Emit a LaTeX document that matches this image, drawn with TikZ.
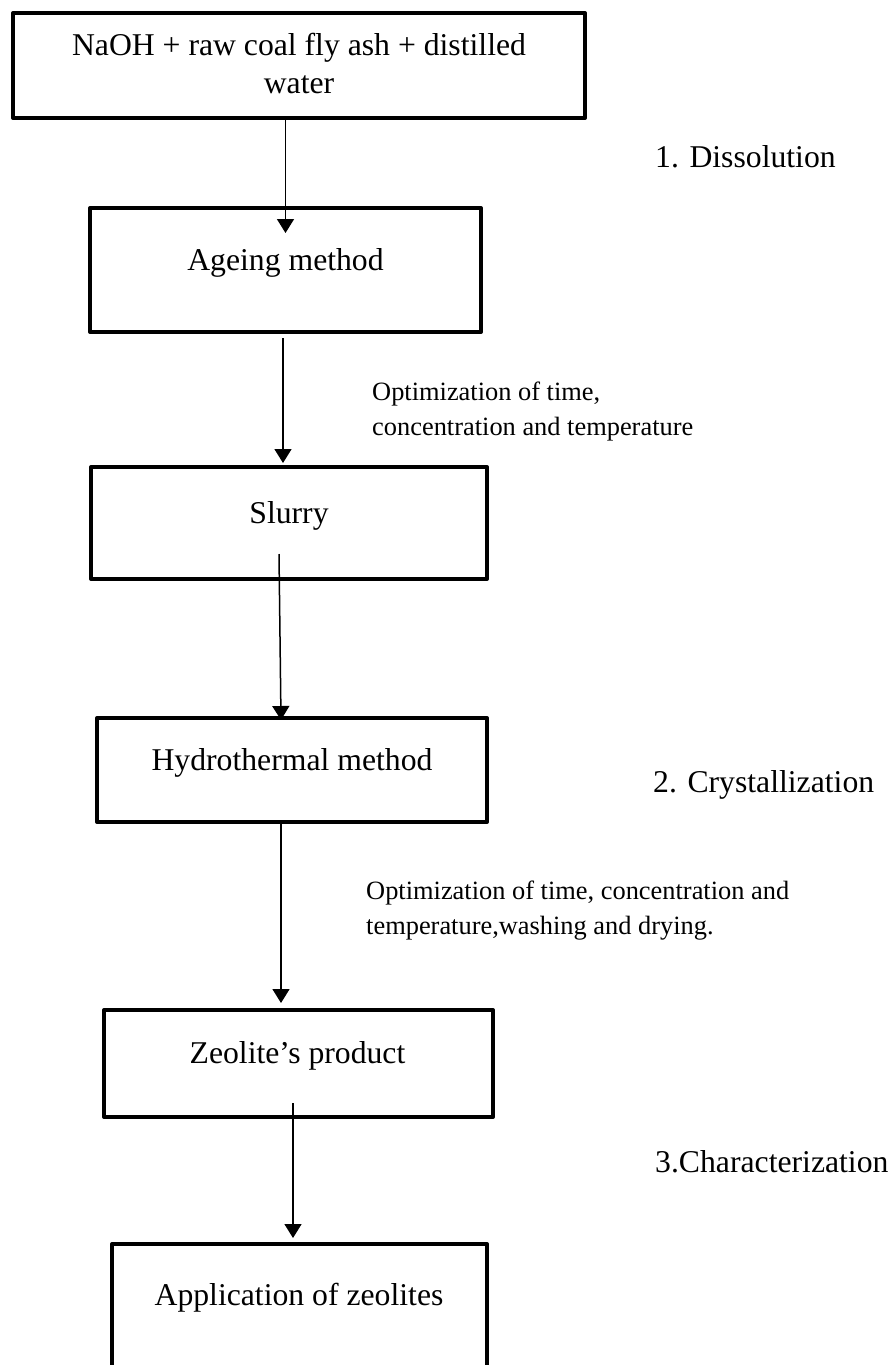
\documentclass[tikz,border=0pt]{standalone}
\usepackage{fontspec}
\setmainfont{Liberation Serif}
\usetikzlibrary{arrows.meta}
\begin{document}
\begin{tikzpicture}[x=1pt,y=-1pt,
  box/.style={draw, line width=4pt, line join=round, inner sep=0pt, outer sep=0pt},
  main/.style={font=\fontsize{31.7}{38}\selectfont, inner sep=0pt, align=center},
  side/.style={font=\fontsize{31.7}{38}\selectfont, inner sep=0pt, anchor=base west},
  lbl/.style={font=\fontsize{26.4}{35}\selectfont, inner sep=0pt, align=left, anchor=base west},
  arr/.style={line width=1.5pt, -{Triangle[width=17pt,length=14pt]}}]
\useasboundingbox (0,0) rectangle (892,1365);
% boxes
\node[box, minimum width=572pt, minimum height=105pt] (top) at (299,65.5) {};
\node[box, minimum width=391pt, minimum height=124pt] (ageing) at (285.5,270) {};
\node[box, minimum width=396pt, minimum height=112pt] (slurry) at (289,523) {};
\node[box, minimum width=390pt, minimum height=104pt] (hydro) at (292,770) {};
\node[box, minimum width=389pt, minimum height=107pt] (zeo) at (298.5,1063.5) {};
\node[box, minimum width=375pt, minimum height=146pt] (app) at (299.5,1317) {};
% box texts
\node[main, anchor=base] (toptxt) at (299,93) {NaOH + raw coal fly ash + distilled\\water};
\node[main, anchor=base] (ageingtxt) at (285.5,270) {Ageing method};
\node[main, anchor=base] (slurrytxt) at (289,523) {Slurry};
\node[main, anchor=base] (hydrotxt) at (292,770) {Hydrothermal method};
\node[main, anchor=base] (zeotxt) at (297.5,1063) {Zeolite’s product};
\node[main, anchor=base] (apptxt) at (299,1305) {Application of zeolites};
% side labels
\node[side] (s1) at (655,167) {1. Dissolution};
\node[side] (s2) at (653,792) {2. Crystallization};
\node[side] (s3) at (655,1172) {3.Characterization};
% arrow labels
\node[lbl] (l1) at (372,435) {Optimization of time,\\concentration and temperature};
\node[lbl] (l2) at (366,934) {Optimization of time, concentration and\\temperature,washing and drying.};
% arrows
\draw[arr] (top.south -| ageing.north) -- ([shift={(0,25)}]ageing.north);
\draw[arr] ([shift={(-2.5,6)}]ageing.south) -- ([shift={(-6,-4)}]slurry.north);
\draw[arr] ([shift={(-10,-25)}]slurry.south) -- ([shift={(-11,2)}]hydro.north);
\draw[arr] ([shift={(-11,1)}]hydro.south) -- ([shift={(-17.5,-7)}]zeo.north);
\draw[arr] ([shift={(-5.5,-14)}]zeo.south) -- ([shift={(-6.5,-6)}]app.north);
\end{tikzpicture}
\end{document}
